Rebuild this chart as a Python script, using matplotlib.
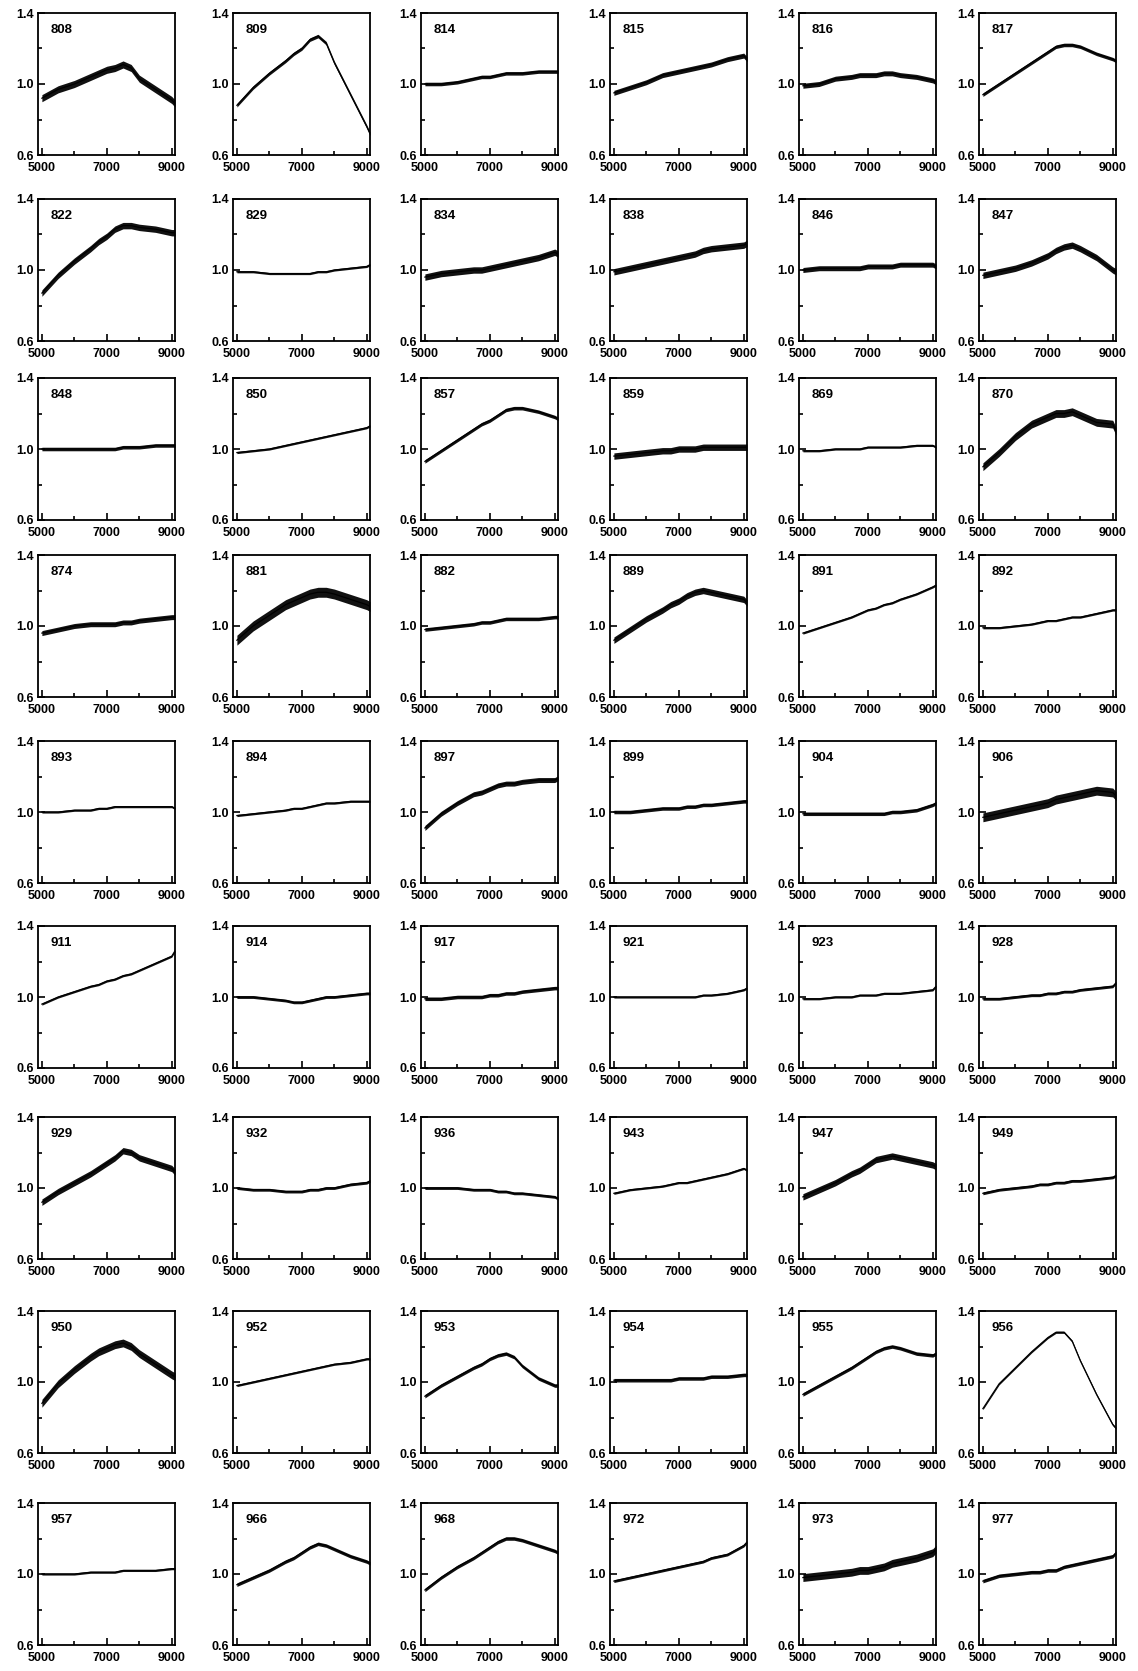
import matplotlib.pyplot as plt
from matplotlib.ticker import MultipleLocator

plt.rcParams['font.family'] = ['Liberation Sans', 'DejaVu Sans']

wave = [5000, 5500, 6000, 6500, 6750, 7000, 7250, 7500, 7750, 8000, 8500, 9000, 9100]

ids = ['808', '809', '814', '815', '816', '817',
       '822', '829', '834', '838', '846', '847',
       '848', '850', '857', '859', '869', '870',
       '874', '881', '882', '889', '891', '892',
       '893', '894', '897', '899', '904', '906',
       '911', '914', '917', '921', '923', '928',
       '929', '932', '936', '943', '947', '949',
       '950', '952', '953', '954', '955', '956',
       '957', '966', '968', '972', '973', '977']

flux = [
    [0.92, 0.97, 1.00, 1.04, 1.06, 1.08, 1.09, 1.11, 1.09, 1.03, 0.97, 0.91, 0.89],
    [0.88, 0.98, 1.06, 1.13, 1.17, 1.20, 1.25, 1.27, 1.23, 1.12, 0.94, 0.76, 0.72],
    [1.00, 1.00, 1.01, 1.03, 1.04, 1.04, 1.05, 1.06, 1.06, 1.06, 1.07, 1.07, 1.07],
    [0.95, 0.98, 1.01, 1.05, 1.06, 1.07, 1.08, 1.09, 1.10, 1.11, 1.14, 1.16, 1.14],
    [0.99, 1.00, 1.03, 1.04, 1.05, 1.05, 1.05, 1.06, 1.06, 1.05, 1.04, 1.02, 1.01],
    [0.94, 1.00, 1.06, 1.12, 1.15, 1.18, 1.21, 1.22, 1.22, 1.21, 1.17, 1.14, 1.13],

    [0.87, 0.97, 1.05, 1.12, 1.16, 1.19, 1.23, 1.25, 1.25, 1.24, 1.23, 1.21, 1.21],
    [0.99, 0.99, 0.98, 0.98, 0.98, 0.98, 0.98, 0.99, 0.99, 1.00, 1.01, 1.02, 1.03],
    [0.96, 0.98, 0.99, 1.00, 1.00, 1.01, 1.02, 1.03, 1.04, 1.05, 1.07, 1.10, 1.09],
    [0.99, 1.01, 1.03, 1.05, 1.06, 1.07, 1.08, 1.09, 1.11, 1.12, 1.13, 1.14, 1.15],
    [1.00, 1.01, 1.01, 1.01, 1.01, 1.02, 1.02, 1.02, 1.02, 1.03, 1.03, 1.03, 1.02],
    [0.97, 0.99, 1.01, 1.04, 1.06, 1.08, 1.11, 1.13, 1.14, 1.12, 1.07, 1.00, 0.99],

    [1.00, 1.00, 1.00, 1.00, 1.00, 1.00, 1.00, 1.01, 1.01, 1.01, 1.02, 1.02, 1.02],
    [0.98, 0.99, 1.00, 1.02, 1.03, 1.04, 1.05, 1.06, 1.07, 1.08, 1.10, 1.12, 1.13],
    [0.93, 0.99, 1.05, 1.11, 1.14, 1.16, 1.19, 1.22, 1.23, 1.23, 1.21, 1.18, 1.17],
    [0.96, 0.97, 0.98, 0.99, 0.99, 1.00, 1.00, 1.00, 1.01, 1.01, 1.01, 1.01, 1.01],
    [0.99, 0.99, 1.00, 1.00, 1.00, 1.01, 1.01, 1.01, 1.01, 1.01, 1.02, 1.02, 1.01],
    [0.90, 0.98, 1.07, 1.14, 1.16, 1.18, 1.20, 1.20, 1.21, 1.19, 1.15, 1.14, 1.10],

    [0.96, 0.98, 1.00, 1.01, 1.01, 1.01, 1.01, 1.02, 1.02, 1.03, 1.04, 1.05, 1.05],
    [0.92, 1.00, 1.06, 1.12, 1.14, 1.16, 1.18, 1.19, 1.19, 1.18, 1.15, 1.12, 1.11],
    [0.98, 0.99, 1.00, 1.01, 1.02, 1.02, 1.03, 1.04, 1.04, 1.04, 1.04, 1.05, 1.05],
    [0.92, 0.98, 1.04, 1.09, 1.12, 1.14, 1.17, 1.19, 1.20, 1.19, 1.17, 1.15, 1.13],
    [0.96, 0.99, 1.02, 1.05, 1.07, 1.09, 1.10, 1.12, 1.13, 1.15, 1.18, 1.22, 1.23],
    [0.99, 0.99, 1.00, 1.01, 1.02, 1.03, 1.03, 1.04, 1.05, 1.05, 1.07, 1.09, 1.09],

    [1.00, 1.00, 1.01, 1.01, 1.02, 1.02, 1.03, 1.03, 1.03, 1.03, 1.03, 1.03, 1.02],
    [0.98, 0.99, 1.00, 1.01, 1.02, 1.02, 1.03, 1.04, 1.05, 1.05, 1.06, 1.06, 1.06],
    [0.91, 0.99, 1.05, 1.10, 1.11, 1.13, 1.15, 1.16, 1.16, 1.17, 1.18, 1.18, 1.19],
    [1.00, 1.00, 1.01, 1.02, 1.02, 1.02, 1.03, 1.03, 1.04, 1.04, 1.05, 1.06, 1.06],
    [0.99, 0.99, 0.99, 0.99, 0.99, 0.99, 0.99, 0.99, 1.00, 1.00, 1.01, 1.04, 1.05],
    [0.97, 0.99, 1.01, 1.03, 1.04, 1.05, 1.07, 1.08, 1.09, 1.10, 1.12, 1.11, 1.09],

    [0.96, 1.00, 1.03, 1.06, 1.07, 1.09, 1.10, 1.12, 1.13, 1.15, 1.19, 1.23, 1.26],
    [1.00, 1.00, 0.99, 0.98, 0.97, 0.97, 0.98, 0.99, 1.00, 1.00, 1.01, 1.02, 1.02],
    [0.99, 0.99, 1.00, 1.00, 1.00, 1.01, 1.01, 1.02, 1.02, 1.03, 1.04, 1.05, 1.05],
    [1.00, 1.00, 1.00, 1.00, 1.00, 1.00, 1.00, 1.00, 1.01, 1.01, 1.02, 1.04, 1.05],
    [0.99, 0.99, 1.00, 1.00, 1.01, 1.01, 1.01, 1.02, 1.02, 1.02, 1.03, 1.04, 1.06],
    [0.99, 0.99, 1.00, 1.01, 1.01, 1.02, 1.02, 1.03, 1.03, 1.04, 1.05, 1.06, 1.08],

    [0.92, 0.98, 1.03, 1.08, 1.11, 1.14, 1.17, 1.21, 1.20, 1.17, 1.14, 1.11, 1.09],
    [1.00, 0.99, 0.99, 0.98, 0.98, 0.98, 0.99, 0.99, 1.00, 1.00, 1.02, 1.03, 1.04],
    [1.00, 1.00, 1.00, 0.99, 0.99, 0.99, 0.98, 0.98, 0.97, 0.97, 0.96, 0.95, 0.94],
    [0.97, 0.99, 1.00, 1.01, 1.02, 1.03, 1.03, 1.04, 1.05, 1.06, 1.08, 1.11, 1.10],
    [0.95, 0.99, 1.03, 1.08, 1.10, 1.13, 1.16, 1.17, 1.18, 1.17, 1.15, 1.13, 1.12],
    [0.97, 0.99, 1.00, 1.01, 1.02, 1.02, 1.03, 1.03, 1.04, 1.04, 1.05, 1.06, 1.07],

    [0.88, 0.99, 1.07, 1.14, 1.17, 1.19, 1.21, 1.22, 1.20, 1.16, 1.10, 1.04, 1.03],
    [0.98, 1.00, 1.02, 1.04, 1.05, 1.06, 1.07, 1.08, 1.09, 1.10, 1.11, 1.13, 1.13],
    [0.92, 0.98, 1.03, 1.08, 1.10, 1.13, 1.15, 1.16, 1.14, 1.09, 1.02, 0.98, 0.98],
    [1.01, 1.01, 1.01, 1.01, 1.01, 1.02, 1.02, 1.02, 1.02, 1.03, 1.03, 1.04, 1.04],
    [0.93, 0.98, 1.03, 1.08, 1.11, 1.14, 1.17, 1.19, 1.20, 1.19, 1.16, 1.15, 1.16],
    [0.85, 0.99, 1.08, 1.17, 1.21, 1.25, 1.28, 1.28, 1.23, 1.12, 0.93, 0.76, 0.74],

    [1.00, 1.00, 1.00, 1.01, 1.01, 1.01, 1.01, 1.02, 1.02, 1.02, 1.02, 1.03, 1.03],
    [0.94, 0.98, 1.02, 1.07, 1.09, 1.12, 1.15, 1.17, 1.16, 1.14, 1.10, 1.07, 1.06],
    [0.91, 0.98, 1.04, 1.09, 1.12, 1.15, 1.18, 1.20, 1.20, 1.19, 1.16, 1.13, 1.12],
    [0.96, 0.98, 1.00, 1.02, 1.03, 1.04, 1.05, 1.06, 1.07, 1.09, 1.11, 1.16, 1.18],
    [0.98, 0.99, 1.00, 1.01, 1.02, 1.02, 1.03, 1.04, 1.06, 1.07, 1.09, 1.12, 1.14],
    [0.96, 0.99, 1.00, 1.01, 1.01, 1.02, 1.02, 1.04, 1.05, 1.06, 1.08, 1.10, 1.12],
]

# half-width of the noise band seen around each spectrum
spread = [0.02, 0.01, 0.01, 0.014, 0.014, 0.01,
          0.018, 0.006, 0.018, 0.018, 0.014, 0.018,
          0.01, 0.006, 0.01, 0.018, 0.006, 0.022,
          0.014, 0.028, 0.01, 0.018, 0.006, 0.006,
          0.006, 0.006, 0.014, 0.01, 0.01, 0.025,
          0.006, 0.008, 0.01, 0.006, 0.006, 0.008,
          0.018, 0.008, 0.008, 0.006, 0.018, 0.008,
          0.022, 0.006, 0.01, 0.01, 0.01, 0.006,
          0.006, 0.01, 0.01, 0.008, 0.022, 0.01]

W, H = 1138, 1671
col_left = [38, 233, 421, 610, 799, 979]
row_top = [13, 199, 378, 555, 741, 926, 1117, 1311, 1503]
pw, ph = 137, 142

fig = plt.figure(figsize=(W / 100, H / 100), dpi=100)

for k, name in enumerate(ids):
    r, c = divmod(k, 6)
    ax = fig.add_axes([col_left[c] / W, 1 - (row_top[r] + ph) / H, pw / W, ph / H])
    lo = [f - spread[k] for f in flux[k]]
    hi = [f + spread[k] for f in flux[k]]
    ax.fill_between(wave, lo, hi, color='#111111', linewidth=0)
    ax.plot(wave, flux[k], color='black', lw=0.9)
    ax.set_xlim(4880, 9100)
    ax.set_ylim(0.6, 1.4)
    ax.set_xticks([5000, 7000, 9000])
    ax.xaxis.set_minor_locator(MultipleLocator(1000))
    ax.set_yticks([0.6, 1.0, 1.4])
    ax.set_yticklabels(['0.6', '1.0', '1.4'])
    ax.yaxis.set_minor_locator(MultipleLocator(0.2))
    ax.tick_params(which='both', direction='in', width=1.2,
                   labelsize=9, top=False, right=False)
    ax.tick_params(axis='x', pad=5)
    ax.tick_params(axis='y', pad=3)
    ax.tick_params(which='major', length=5)
    ax.tick_params(which='minor', length=3)
    for lab in ax.get_xticklabels() + ax.get_yticklabels():
        lab.set_fontweight('bold')
    for sp in ax.spines.values():
        sp.set_linewidth(1.3)
    ax.text(0.09, 0.88, name, transform=ax.transAxes, fontsize=9.5,
            fontweight='bold', va='center', ha='left')

fig.savefig('out.png', dpi=100)
